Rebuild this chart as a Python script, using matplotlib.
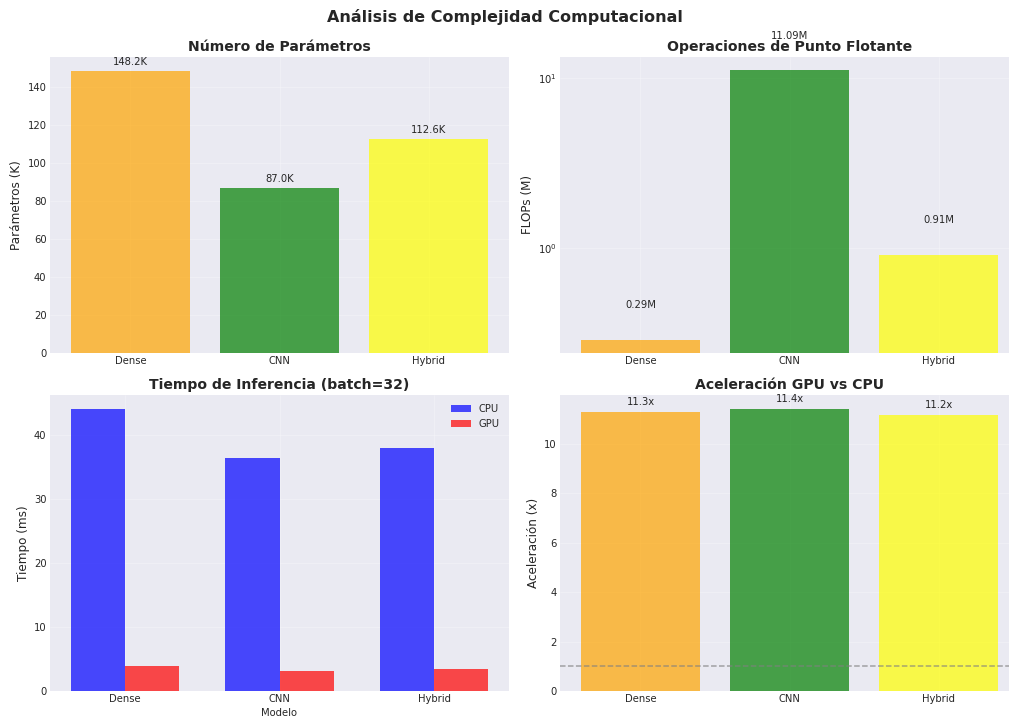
import numpy as np
import matplotlib
matplotlib.use("Agg")
import matplotlib.pyplot as plt

plt.style.use("seaborn-v0_8-darkgrid")
plt.rcParams["font.family"] = ["DejaVu Sans"]

# Model comparison data
models = ["Dense", "CNN", "Hybrid"]
params_k = [148.2, 87.0, 112.6]          # parameters (thousands)
flops_m = [0.29, 11.09, 0.91]            # floating point ops (millions)
cpu_ms = [44.1, 36.5, 38.0]              # inference time, batch=32
gpu_ms = [3.9, 3.2, 3.4]
bar_colors = ["orange", "green", "yellow"]

speedup = [c / g for c, g in zip(cpu_ms, gpu_ms)]

W, H, DPI = 1009, 719, 72
fig = plt.figure(figsize=(W / DPI, H / DPI), dpi=DPI)


def axes_px(x0, y0, x1, y1):
    return fig.add_axes([x0 / W, 1 - y1 / H, (x1 - x0) / W, (y1 - y0) / H])


ax1 = axes_px(50, 57, 509, 353)
ax2 = axes_px(560, 57, 1019, 353)
ax3 = axes_px(50, 395, 509, 691)
ax4 = axes_px(560, 395, 1019, 691)

x = np.arange(len(models))

# Parameter count
bars = ax1.bar(models, params_k, color=bar_colors, alpha=0.7)
for b, v in zip(bars, params_k):
    ax1.text(b.get_x() + b.get_width() / 2, v + 2, f"{v:.1f}K",
             ha="center", va="bottom", fontsize=10)
ax1.set_title("Número de Parámetros", fontsize=14, fontweight="bold")
ax1.set_ylabel("Parámetros (K)", fontsize=12)

# FLOPs on log scale
bars = ax2.bar(models, flops_m, color=bar_colors, alpha=0.7)
ax2.set_yscale("log")
for b, v in zip(bars, flops_m):
    ax2.text(b.get_x() + b.get_width() / 2, v * 1.5, f"{v:.2f}M",
             ha="center", va="bottom", fontsize=10)
ax2.set_title("Operaciones de Punto Flotante", fontsize=14, fontweight="bold")
ax2.set_ylabel("FLOPs (M)", fontsize=12)

# Inference time CPU vs GPU
w = 0.35
ax3.bar(x - w / 2, cpu_ms, w, label="CPU", color="blue", alpha=0.7)
ax3.bar(x + w / 2, gpu_ms, w, label="GPU", color="red", alpha=0.7)
ax3.set_xticks(x)
ax3.set_xticklabels(models)
ax3.set_xlabel("Modelo", fontsize=10)
ax3.set_ylabel("Tiempo (ms)", fontsize=12)
ax3.set_title("Tiempo de Inferencia (batch=32)", fontsize=14, fontweight="bold")
ax3.legend(loc="upper right", fontsize=10)

# GPU speedup
bars = ax4.bar(models, speedup, color=bar_colors, alpha=0.7)
for b, v in zip(bars, speedup):
    ax4.text(b.get_x() + b.get_width() / 2, v + 0.2, f"{v:.1f}x",
             ha="center", va="bottom", fontsize=10)
ax4.axhline(y=1, color="gray", linestyle="--", alpha=0.7)
ax4.set_title("Aceleración GPU vs CPU", fontsize=14, fontweight="bold")
ax4.set_ylabel("Aceleración (x)", fontsize=12)

for ax in (ax1, ax2, ax3, ax4):
    ax.grid(True, alpha=0.3)
    ax.tick_params(labelsize=10)

fig.suptitle("Análisis de Complejidad Computacional", fontsize=16,
             fontweight="bold", y=1 - 17 / H, va="center")

fig.savefig("out.png", dpi=DPI)
